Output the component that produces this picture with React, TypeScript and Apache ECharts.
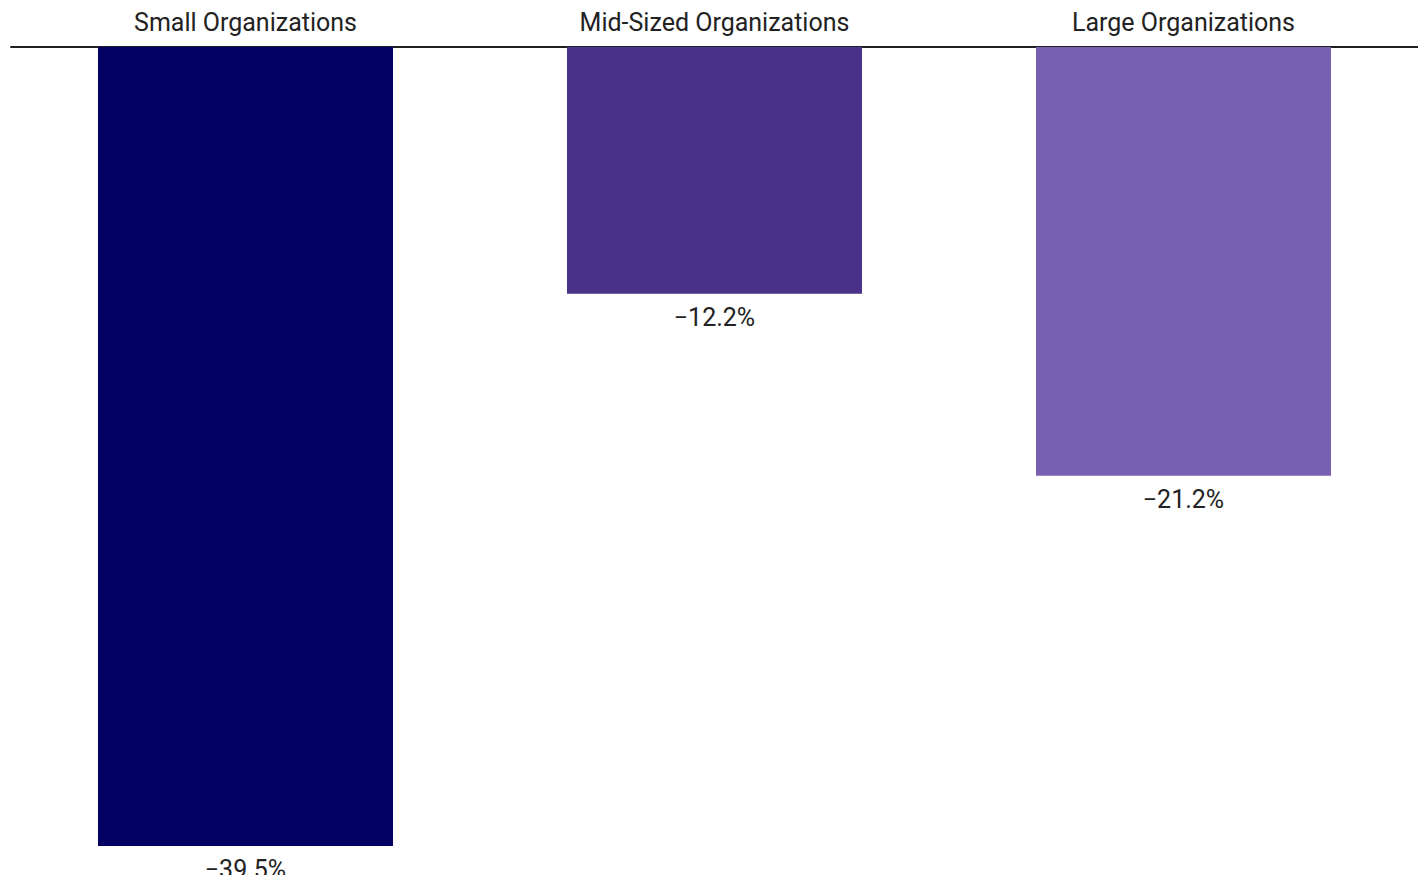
import React, { useEffect, useRef } from "react";
import * as echarts from "echarts";

const categories = ["Small Organizations", "Mid-Sized Organizations", "Large Organizations"];
const values = [-39.5, -12.2, -21.2];
const barColors = ["#030064", "#4a318a", "#785fb0"];

export default function App() {
  const ref = useRef<HTMLDivElement>(null);
  useEffect(() => {
    if (!ref.current) return;
    const chart = echarts.init(ref.current, undefined, { renderer: "svg" });
    chart.setOption({
      animation: false,
      grid: { left: 3, right: 0, top: 39, bottom: 27, containLabel: false },
      xAxis: {
        type: "category",
        position: "top",
        data: categories,
        axisLine: { show: true, onZero: false, lineStyle: { color: "#222", width: 2 } },
        axisTick: { show: false },
        axisLabel: { color: "#222", fontSize: 25, fontFamily: "Roboto", margin: 12 },
      },
      yAxis: {
        type: "value",
        min: -40,
        max: 0,
        show: false,
        splitLine: { show: false },
      },
      series: [
        {
          type: "bar",
          barWidth: 295,
          data: values.map((v, i) => ({ value: v, itemStyle: { color: barColors[i] } })),
          label: {
            show: true,
            position: "bottom",
            distance: 12,
            color: "#222",
            fontSize: 25,
            lineHeight: 24,
            fontFamily: "Roboto",
            formatter: (p: any) => "\u2212" + Math.abs(p.value).toFixed(1) + "%",
          },
        },
      ],
    });
    return () => chart.dispose();
  }, []);
  return <div ref={ref} style={{ width: 1410, height: 875, marginBottom: -8 }} />;
}
